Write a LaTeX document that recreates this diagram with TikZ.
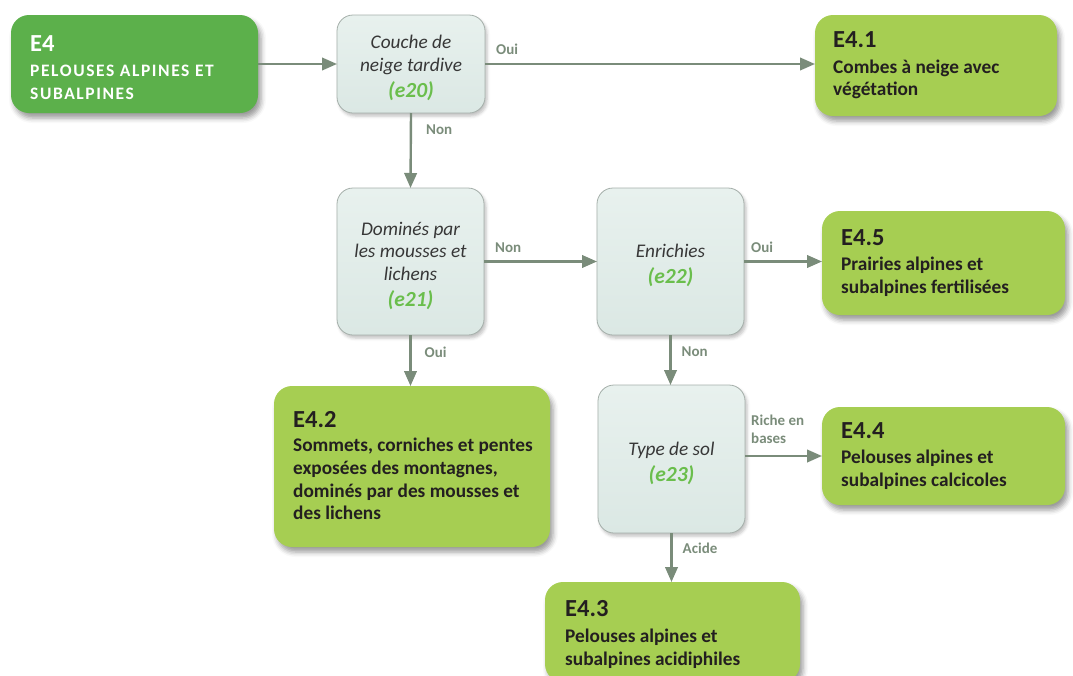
\documentclass[tikz,border=0pt]{standalone}
\usepackage{fontspec}
\setmainfont{Carlito}
\usetikzlibrary{arrows.meta,shadows.blur}
\definecolor{darkgreen}{RGB}{92,176,75}
\definecolor{lightgreen}{RGB}{166,206,82}
\definecolor{qfill}{RGB}{226,237,233}
\definecolor{qtop}{RGB}{232,241,238}
\definecolor{qbot}{RGB}{219,232,228}
\definecolor{qdraw}{RGB}{165,175,170}
\definecolor{arrowc}{RGB}{122,140,122}
\definecolor{idgreen}{RGB}{106,190,76}
\definecolor{darktext}{RGB}{35,31,32}
\definecolor{qtext}{RGB}{55,55,55}
\newcommand{\qid}[1]{{\fontsize{21.5}{24}\selectfont\bfseries\itshape\color{idgreen}#1}}
\newcommand{\hd}[1]{{\fontsize{24.5}{24}\selectfont\bfseries #1}}
\newcommand{\qs}{\rule{0pt}{21.5pt}}
\tikzset{
  gbox/.style={rectangle, rounded corners=18pt, fill=lightgreen, draw=none,
    inner sep=0pt, outer sep=0pt, anchor=north west,
    blur shadow={shadow xshift=3pt, shadow yshift=-5pt, shadow blur radius=5pt, shadow opacity=40}},
  dbox/.style={gbox, fill=darkgreen},
  gtext/.style={anchor=west, align=left, inner sep=0pt, text=darktext,
    font=\fontsize{19.3}{22.8}\selectfont\bfseries},
  qbox/.style={rectangle, rounded corners=16pt, top color=qtop, bottom color=qbot, draw=qdraw, line width=0.8pt,
    inner sep=0pt, outer sep=0pt, anchor=north west, align=center, text=qtext,
    font=\fontsize{19.3}{22.5}\selectfont\itshape,
    blur shadow={shadow xshift=2pt, shadow yshift=-3pt, shadow blur radius=3pt, shadow opacity=25}},
  arr/.style={draw=arrowc, line width=2.4pt, -{Triangle[length=15pt,width=12.5pt]}},
  lbl/.style={text=arrowc, font=\fontsize{15}{18}\selectfont\bfseries, inner sep=0pt, align=left}
}
\begin{document}
\begin{tikzpicture}[x=1pt,y=-1pt]
\useasboundingbox (0,0) rectangle (1073,675);
\clip (0,0) rectangle (1073,675);
% boxes
\node[dbox, minimum width=247pt, minimum height=98pt] (e4) at (11,15) {};
\node[gtext, text=white, font=\fontsize{17.5}{22.3}\selectfont\bfseries] (e4t) at ([xshift=19pt,yshift=-3.5pt]e4.west) {\hd{E4}\\[3pt] \addfontfeature{LetterSpace=9}PELOUSES ALPINES ET\\ \addfontfeature{LetterSpace=9}SUBALPINES};
\node[qbox, minimum width=148pt, minimum height=98pt] (e20) at (337,15) {\qs Couche de\\neige tardive\\[3.5pt]\qid{(e20)}};
\node[gbox, minimum width=242pt, minimum height=101pt] (n41) at (815,15) {};
\node[gtext] (n41t) at ([xshift=18pt]n41.west) {\hd{E4.1}\\[2.5pt]Combes à neige avec\\végétation};
\node[qbox, minimum width=147pt, minimum height=147pt] (e21) at (337,188) {\qs Dominés par\\les mousses et\\lichens\\[3.5pt]\qid{(e21)}};
\node[qbox, minimum width=147pt, minimum height=147pt] (e22) at (597,188) {\qs Enrichies\\[3.5pt]\qid{(e22)}};
\node[gbox, minimum width=243pt, minimum height=104pt] (n45) at (822,211) {};
\node[gtext] (n45t) at ([xshift=19pt]n45.west) {\hd{E4.5}\\[2.5pt]Prairies alpines et\\subalpines fertilisées};
\node[gbox, minimum width=276pt, minimum height=161pt] (n42) at (274,386) {};
\node[gtext] (n42t) at ([xshift=19pt,yshift=1pt]n42.west) {\hd{E4.2}\\[1.5pt]Sommets, corniches et pentes\\exposées des montagnes,\\dominés par des mousses et\\des lichens};
\node[qbox, minimum width=147pt, minimum height=148pt] (e23) at (598,385) {\qs Type de sol\\[3.5pt]\qid{(e23)}};
\node[gbox, minimum width=243pt, minimum height=98pt] (n44) at (822,407) {};
\node[gtext] (n44t) at ([xshift=19pt]n44.west) {\hd{E4.4}\\[2.5pt]Pelouses alpines et\\subalpines calcicoles};
\node[gbox, minimum width=255pt, minimum height=100pt] (n43) at (545,582) {};
\node[gtext] (n43t) at ([xshift=20pt,yshift=-2.5pt]n43.west) {\hd{E4.3}\\[2.5pt]Pelouses alpines et\\subalpines acidiphiles};
% connectors
\draw[arr] (e4.east |- e20.west) -- (e20.west);
\draw[arr] (e20.east) -- node[lbl, pos=0, anchor=south west, xshift=10pt, yshift=8pt] (l1) {Oui} (e20.east -| n41.west);
\draw[arr] (e20.south) -- node[lbl, pos=0, anchor=north west, xshift=14pt, yshift=-11pt] (l2) {Non} (e21.north);
\draw[arr] (e21.east) -- node[lbl, pos=0, anchor=south west, xshift=10pt, yshift=8pt] (l3) {Non} (e22.west);
\draw[arr] (e22.east) -- node[lbl, pos=0, anchor=south west, xshift=6pt, yshift=8pt] (l4) {Oui} (e22.east -| n45.west);
\draw[arr] (e21.south) -- node[lbl, pos=0, anchor=north west, xshift=13pt, yshift=-11pt] (l5) {Oui} (e21.south |- n42.north);
\draw[arr] (e22.south) -- node[lbl, pos=0, anchor=north west, xshift=10pt, yshift=-11pt] (l6) {Non} (e22.south |- e23.north);
\draw[arr] (e23.east |- n44.west) -- node[lbl, pos=0, anchor=south west, xshift=5pt, yshift=11pt] (l7) {Riche en\\bases} (n44.west);
\draw[arr] (e23.south) -- node[lbl, pos=0, anchor=north west, xshift=10pt, yshift=-9pt] (l8) {Acide} (e23.south |- n43.north);
\end{tikzpicture}
\end{document}
